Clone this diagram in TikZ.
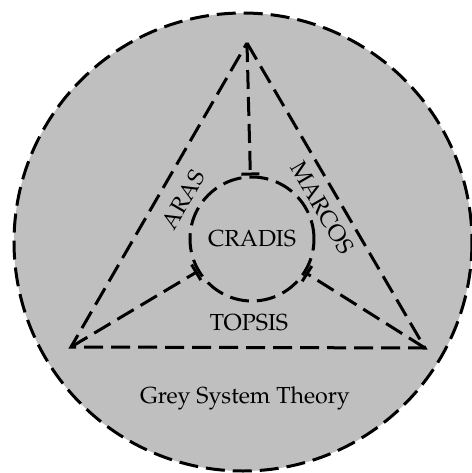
\documentclass[tikz,border=0pt]{standalone}
\usepackage[T1]{fontenc}
\usepackage{mathpazo}
\usetikzlibrary{arrows.meta,positioning}
\tikzset {
  >=Stealth,
  every node/.style={font=\fontsize{11.6}{13.5}\selectfont},
  dashline/.style={line width=1.5pt,dash pattern=on 9.5pt off 4pt},
  spoke/.style={dashline,-{Bar[width=9pt,line width=1.5pt]}},
}

\begin{document}
\begin{tikzpicture}[x=0.5pt,y=-0.5pt]
          \useasboundingbox (0,0) rectangle (472,473);
          \filldraw[fill=black!25,dashline] (243,242) circle[radius=229];
          \coordinate (apex) at (247,43);
          \coordinate (bl) at (71,347);
          \coordinate (br) at (425,348);
          \draw[dashline] (apex) -- (br) -- (bl) -- cycle;
          \node[circle,draw,dashline,minimum size=62pt,inner sep=0pt] (cradis) at (252,239) {CRADIS};
          \draw[spoke] (apex) -- (cradis);
          \draw[spoke] (bl) -- (cradis);
          \draw[spoke] (br) -- (cradis);
          \node at (183,200)[rotate=60] (aras) {ARAS};
          \node at (322,208)[rotate=-60] (marcos) {MARCOS};
          \node at (249,323) (topsis) {TOPSIS};
          \node at (245,398) (gst) {Grey System Theory};
        \end{tikzpicture}
\end{document}
